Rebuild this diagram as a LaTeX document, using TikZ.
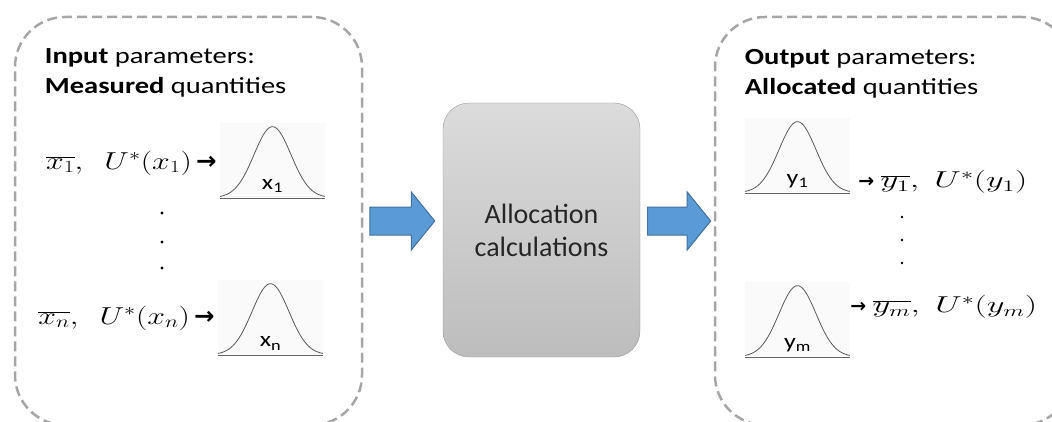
\RequirePackage{fix-cm}
\documentclass[tikz,border=0pt]{standalone}
\usepackage{fontspec}
\setmainfont{Carlito}
\newfontfamily\widefont{Carlito}[FakeStretch=1.24]
\newfontfamily\arrowfont{DejaVu Sans}
\usetikzlibrary{positioning,shapes.arrows}
\definecolor{framegray}{HTML}{A6A6A6}
\definecolor{arrblue}{HTML}{5B9BD5}
\definecolor{arrline}{HTML}{41719C}
\tikzset{
  frame/.style  ={draw=framegray, line width=2.5pt, dash pattern=on 10pt off 5pt, rounded corners=50pt, minimum width=347pt, minimum height=408pt, inner sep=0pt},
  calcbox/.style={draw=black!40, rounded corners=26pt, top color=black!14, bottom color=black!26, minimum width=197pt, minimum height=254pt, align=center, text=black!85, font=\fontsize{28}{33}\selectfont},
  blk/.style    ={single arrow, draw=arrline, fill=arrblue, line width=1pt, minimum height=65pt, inner xsep=0pt, inner ysep=13.5pt, single arrow head extend=15pt, single arrow tip angle=102},
  ttl/.style    ={align=left, inner sep=0pt, font=\widefont\fontsize{23}{30}\selectfont},
  bell/.style   ={minimum width=105pt, minimum height=76pt, inner sep=0pt, fill=black!2},
  curve/.style  ={black!65, line width=0.8pt},
  baseln/.style ={black!60, line width=1.2pt},
  bellcurve/.pic={
    \draw[curve] plot[domain=-52.5:52.5, samples=71, smooth] (\x, {1.5+71*exp(-0.5*(\x/18.5)*(\x/18.5))});
    \draw[baseln] (-52.5,1) -- (52.5,1);
  },
  blbl/.style   ={inner sep=0pt, font=\widefont\fontsize{21}{24}\selectfont},
  frm/.style    ={inner sep=0pt, font=\fontsize{24.5}{30}\selectfont},
  frmr/.style   ={inner sep=0pt, font=\fontsize{23}{26}\selectfont},
}
\newcommand{\arr}{{\arrowfont\bfseries →}}
\newcommand{\sarr}{{\arrowfont\bfseries\fontsize{19}{19}\selectfont →}}

\begin{document}
\begin{tikzpicture}[x=1pt, y=1pt]
  \useasboundingbox (0,0) rectangle (1052,421);
  \clip (0,0) rectangle (1052,421);

  % frames and the calculation block
  \node[frame] (inbox) at (188.5,200) {};
  \node[frame, minimum width=357pt] (outbox) at (893.5,200) {};
  \node[calcbox] (calc) at (541.5,191) {Allocation\\calculations};

  \node[blk, right=6pt of inbox] (inarr) {};
  \coordinate (outstart) at (calc.east |- inarr.center);
  \node[blk, minimum height=63pt, right=7pt of outstart] (outarr) {};

  % input side
  \node[ttl, below right=33pt and 31pt of inbox.north west] (intitle) {\textbf{Input} parameters:\\\textbf{Measured} quantities};
  \node[bell] (g1) at (272.5,260) {};
  \node[bell] (gn) at (270.5,103) {};
  \pic at (g1.south) {bellcurve};
  \pic at (gn.south) {bellcurve};
  \node[blbl, above=6pt of g1.south] (g1l) {x\textsubscript{1}};
  \node[blbl, above=6pt of gn.south] (gnl) {x\textsubscript{n}};
  \node[frm, left=3pt of g1, yshift=-2pt] (f1) {\scalebox{1.3}[1]{$\overline{x_1},\enspace U^*(x_1)$}\,\arr};
  \node[frm, left=3pt of gn] (fn) {\scalebox{1.3}[1]{$\overline{x_n},\enspace U^*(x_n)$}\,\arr};
  \foreach \y in {208,179,153} \fill (162,\y) circle (1.6pt);

  % output side
  \node[ttl, below right=33pt and 31pt of outbox.north west] (outtitle) {\textbf{Output} parameters:\\\textbf{Allocated} quantities};
  \node[bell] (gy1) at (797.5,265) {};
  \node[bell] (gym) at (797.5,101) {};
  \pic at (gy1.south) {bellcurve};
  \pic at (gym.south) {bellcurve};
  \node[blbl, above=6pt of gy1.south] (gy1l) {y\textsubscript{1}};
  \node[blbl, above=6pt of gym.south] (gyml) {y\textsubscript{m}};
  \node[frmr, right=8pt of gy1, yshift=-26pt] (fy1) {\sarr\;\scalebox{1.5}[1]{$\overline{y_1},\; U^*(y_1)$}};
  \node[frmr, right=0pt of gym, yshift=13pt] (fym) {\sarr\;\scalebox{1.5}[1]{$\overline{y_m},\; U^*(y_m)$}};
  \foreach \y in {204,181,158} \fill (902,\y) circle (1.4pt);
\end{tikzpicture}
\end{document}
